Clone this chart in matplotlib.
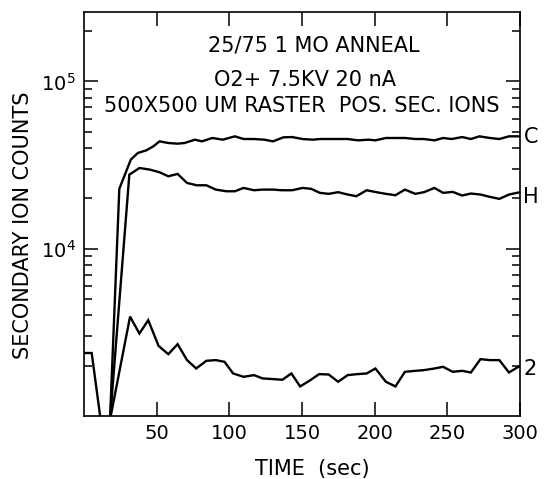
import matplotlib
matplotlib.use("Agg")
import matplotlib.pyplot as plt
import numpy as np

# time (sec) and counts
t_c = [11.8, 17.9, 24.3, 32.2, 37.0, 42.9, 47.7, 52.0, 58.0, 64.4, 69.2, 76.4, 81.1,
       88.3, 95.5, 103.8, 109.8, 117.0, 124.1, 130.1, 137.2, 143.2, 150.4, 157.5,
       162.3, 169.5, 175.4, 181.4, 188.5, 195.7, 200.5, 207.7, 214.8, 220.8, 228.0,
       233.9, 241.1, 247.1, 253.0, 260.2, 266.2, 272.1, 279.3, 285.8, 292.4, 300.0]
c_counts = [600, 950, 22800, 34080, 37330, 38730, 40930, 43830, 42840, 42450, 42840,
            44850, 43830, 45900, 44850, 46960, 45260, 45260, 44850, 43830, 46320,
            46500, 45260, 44850, 45260, 45260, 45260, 45260, 44440, 44850, 44440,
            45900, 45900, 45900, 45260, 45260, 44440, 45900, 45260, 46500, 45260,
            46960, 45900, 45260, 46960, 46960]

t_h = [11.8, 17.9, 31.2, 38.2, 45.3, 52.0, 58.0, 64.4, 70.9, 77.6, 84.2, 90.7, 97.9,
       103.8, 109.8, 117.0, 122.9, 130.1, 136.0, 143.2, 150.4, 156.4, 162.3, 168.3,
       174.9, 181.4, 187.4, 194.5, 201.2, 207.7, 214.3, 220.8, 228.0, 233.9, 241.1,
       247.1, 253.7, 260.2, 266.2, 272.8, 279.3, 285.8, 292.4, 300.0]
h_counts = [600, 950, 27730, 30380, 29700, 28640, 27100, 27990, 24720, 23940, 23940,
            22560, 22050, 22050, 23080, 22360, 22560, 22560, 22360, 22360, 23080,
            22790, 21570, 21280, 21770, 21080, 20600, 22360, 21770, 21280, 20880,
            22560, 21280, 21770, 23080, 21570, 21860, 20790, 21370, 21080, 20410,
            19860, 21080, 21770]

t_2 = [0.0, 5.3, 11.8, 17.9, 31.7, 38.1, 44.2, 51.3, 58.0, 64.4, 70.9, 77.2, 84.2,
       90.7, 96.7, 102.6, 109.8, 117.0, 122.9, 130.1, 136.5, 142.7, 148.7, 155.1,
       161.8, 168.3, 174.9, 181.4, 188.0, 194.5, 200.5, 207.7, 214.3, 220.8, 228.0,
       233.9, 241.1, 247.1, 253.7, 260.2, 266.2, 272.8, 279.3, 285.8, 292.4, 300.0]
m2_counts = [2380, 2380, 900, 950, 3930, 3110, 3740, 2625, 2342, 2687, 2158, 1923,
             2138, 2158, 2108, 1796, 1715, 1755, 1677, 1662, 1647, 1796, 1502, 1624,
             1779, 1771, 1602, 1755, 1779, 1796, 1923, 1602, 1502, 1837, 1862, 1880,
             1923, 1968, 1837, 1862, 1820, 2187, 2158, 2158, 1820, 1995]

series_labels = ["C", "H", "2"]
label_y = [46800, 20500, 1905]
x_ticks = [50, 100, 150, 200, 250, 300]
title_lines = ["25/75 1 MO ANNEAL", "O2+ 7.5KV 20 nA", "500X500 UM RASTER  POS. SEC. IONS"]

plt.rcParams['font.family'] = ['DejaVu Sans']

fig = plt.figure(figsize=(5.45, 4.79), dpi=100)
ax = fig.add_axes([84/545, 1-416/479, 436/545, 404/479])

for t, v in [(t_c, c_counts), (t_h, h_counts), (t_2, m2_counts)]:
    ax.plot(t, v, color="black", lw=1.7, solid_joinstyle="miter")

ax.set_yscale("log")
ax.set_xlim(0, 300)
ax.set_ylim(1000, 2.6e5)
ax.set_xticks(x_ticks)
ax.set_xticklabels([str(x) for x in x_ticks])
ax.set_yticks([1e4, 1e5])
ax.set_yticklabels([r"$\mathregular{10^4}$", r"$\mathregular{10^5}$"])
ax.tick_params(which="both", direction="in", top=True, right=True, labelsize=14, width=1.1)
ax.tick_params(which="major", length=10, pad=6)
ax.tick_params(which="minor", length=5.5)
ax.xaxis.set_minor_locator(matplotlib.ticker.NullLocator())
for s in ax.spines.values():
    s.set_linewidth(1.2)

for lab, y in zip(series_labels, label_y):
    ax.text(1.008, y, lab, transform=ax.get_yaxis_transform(), ha="left", va="center", fontsize=15)

ax.text(0.528, 0.916, title_lines[0], transform=ax.transAxes, ha="center", va="center", fontsize=15)
ax.text(0.507, 0.832, title_lines[1], transform=ax.transAxes, ha="center", va="center", fontsize=15)
ax.text(0.499, 0.767, title_lines[2], transform=ax.transAxes, ha="center", va="center", fontsize=15)

ax.set_xlabel("TIME  (sec)", fontsize=15, va="center")
ax.xaxis.set_label_coords(0.523, -0.131)
ax.set_ylabel("SECONDARY ION COUNTS", fontsize=15, va="center")
ax.yaxis.set_label_coords(-0.141, 0.473)

fig.savefig("out.png", dpi=100)
